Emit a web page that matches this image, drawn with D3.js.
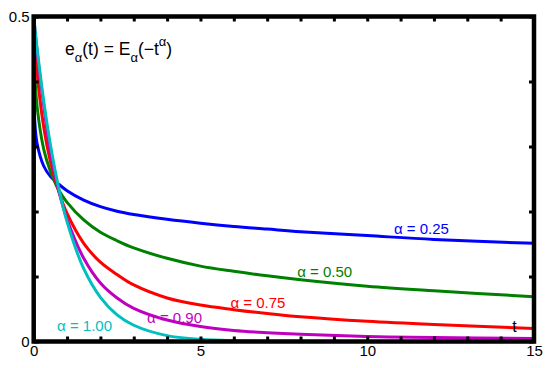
<!DOCTYPE html>
<html>
<head>
<meta charset="utf-8">
<script src="https://cdn.jsdelivr.net/npm/d3@7"></script>
<style>
  body { margin: 0; background: #fff; }
  text { font-family: "Liberation Sans", Arial, sans-serif; }
</style>
</head>
<body>
<svg id="chart" width="550" height="368"></svg>
<script>
// time samples (t) and the curves e_alpha(t)
const tValues = [0, 0.001, 0.01, 0.03, 0.1, 0.3, 0.5, 0.75, 1, 1.5, 2, 2.5, 3, 4, 5, 6, 7, 8, 10, 12, 15];
const alpha025 = [0.5, 0.417, 0.365, 0.340, 0.305, 0.270, 0.254, 0.242, 0.232, 0.2175, 0.2075, 0.2005, 0.1955, 0.188, 0.182, 0.177, 0.173, 0.169, 0.163, 0.157, 0.151];
const alpha050 = [0.5, 0.486, 0.448, 0.415, 0.362, 0.296, 0.262, 0.233, 0.214, 0.187, 0.168, 0.155, 0.144, 0.128, 0.116, 0.108, 0.101, 0.095, 0.085, 0.078, 0.069];
const alpha075 = [0.5, 0.497, 0.483, 0.463, 0.414, 0.330, 0.277, 0.231, 0.197, 0.151, 0.122, 0.103, 0.087, 0.067, 0.056, 0.049, 0.043, 0.038, 0.031, 0.026, 0.020];
const alpha090 = [0.5, 0.499, 0.494, 0.484, 0.447, 0.363, 0.291, 0.232, 0.188, 0.128, 0.090, 0.067, 0.051, 0.033, 0.023, 0.017, 0.0135, 0.011, 0.0078, 0.006, 0.0045];
const alpha100 = [0.5, 0.4995, 0.495, 0.485, 0.452, 0.370, 0.303, 0.236, 0.184, 0.112, 0.068, 0.041, 0.025, 0.009, 0.0034, 0.0012, 0.0005, 0.0002, 0, 0, 0];

const seriesNames = ["α = 0.25", "α = 0.50", "α = 0.75", "α = 0.90", "α = 1.00"];
const seriesColors = ["#0000ff", "#008000", "#ff0000", "#bf00bf", "#00bfbf"];
const seriesValues = [alpha025, alpha050, alpha075, alpha090, alpha100];
// where each curve label sits, in data units
const labelPos = [[10.8, 0.166], [7.9, 0.099], [5.9, 0.051], [3.4, 0.028], [0.7, 0.016]];

const xTicks = [0, 5, 10, 15];
const yTicks = [0, 0.5];

const svg = d3.select("#chart");
const mLeft = 33.7, mRight = 534, mTop = 16.5, mBottom = 341.5;

const x = d3.scaleLinear().domain([0, 15]).range([mLeft, mRight]);
const y = d3.scaleLinear().domain([0, 0.5]).range([mBottom, mTop]);

// curves
const line = d3.line()
  .x(d => x(d[0]))
  .y(d => y(d[1]))
  .curve(d3.curveCatmullRom.alpha(0.5));

seriesValues.forEach((vals, i) => {
  svg.append("path")
    .datum(tValues.map((t, j) => [t, vals[j]]))
    .attr("fill", "none")
    .attr("stroke", seriesColors[i])
    .attr("stroke-width", 3)
    .attr("d", line);
});

// small inside ticks on all four sides
const tickStyle = g => {
  g.select(".domain").remove();
  g.selectAll(".tick line").attr("stroke", "#000").attr("stroke-width", 3);
  g.selectAll(".tick text").remove();
};
svg.append("g").attr("transform", `translate(0,${mBottom})`)
  .call(d3.axisBottom(x).ticks(15).tickSizeInner(-5).tickSizeOuter(0)).call(tickStyle);
svg.append("g").attr("transform", `translate(0,${mTop})`)
  .call(d3.axisTop(x).ticks(15).tickSizeInner(-5).tickSizeOuter(0)).call(tickStyle);
svg.append("g").attr("transform", `translate(${mLeft},0)`)
  .call(d3.axisLeft(y).ticks(5).tickSizeInner(-5).tickSizeOuter(0)).call(tickStyle);
svg.append("g").attr("transform", `translate(${mRight},0)`)
  .call(d3.axisRight(y).ticks(5).tickSizeInner(-5).tickSizeOuter(0)).call(tickStyle);

// frame
svg.append("rect")
  .attr("x", mLeft).attr("y", mTop)
  .attr("width", mRight - mLeft).attr("height", mBottom - mTop)
  .attr("fill", "none").attr("stroke", "#000").attr("stroke-width", 4.5);

// tick labels
const labelStyle = g => {
  g.select(".domain").remove();
  g.selectAll(".tick line").remove();
  g.selectAll(".tick text").attr("fill", "#000").style("font-size", "15px")
    .style("font-family", "'Liberation Sans', Arial, sans-serif");
};
svg.append("g").attr("transform", `translate(0,${mBottom + 1})`)
  .call(d3.axisBottom(x).tickValues(xTicks).tickSize(0).tickPadding(3).tickFormat(d3.format("d")))
  .call(labelStyle);
svg.append("g").attr("transform", `translate(${mLeft - 2},0)`)
  .call(d3.axisLeft(y).tickValues(yTicks).tickSize(0).tickPadding(2).tickFormat(d => d === 0 ? "0" : d3.format(".1f")(d)))
  .call(labelStyle);

// curve labels
seriesNames.forEach((name, i) => {
  svg.append("text")
    .attr("x", x(labelPos[i][0]))
    .attr("y", y(labelPos[i][1]))
    .attr("fill", seriesColors[i])
    .style("font-size", "15px")
    .text(name);
});

svg.append("text")
  .attr("x", x(14.35)).attr("y", y(0.015))
  .style("font-size", "16px").attr("fill", "#000")
  .text("t");

// formula
const f = svg.append("text")
  .attr("x", 65).attr("y", 55)
  .style("font-size", "17.5px").attr("fill", "#000");
f.append("tspan").text("e");
f.append("tspan").attr("dy", 7).style("font-size", "13px").text("α");
f.append("tspan").attr("dy", -7).text("(t) = E");
f.append("tspan").attr("dy", 7).style("font-size", "13px").text("α");
f.append("tspan").attr("dy", -7).text("(−t");
f.append("tspan").attr("dy", -9).style("font-size", "13px").text("α");
f.append("tspan").attr("dy", 9).text(")");
</script>
</body>
</html>
